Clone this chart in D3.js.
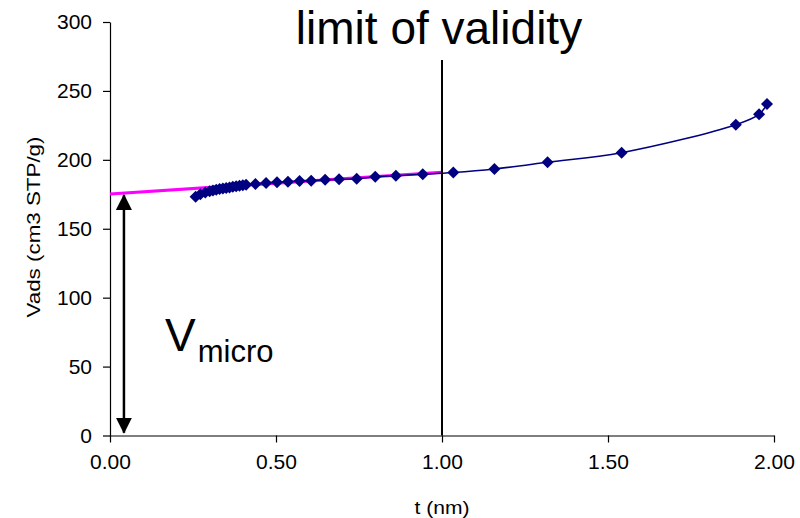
<!DOCTYPE html>
<meta charset="utf-8">
<script src="https://d3js.org/d3.v7.min.js"></script>
<style>
  body { margin: 0; background: #fff; }
  text { font-family: "Liberation Sans", Arial, sans-serif; fill: #000; }
</style>
<div id="chart"></div>

<script>
  // data
  var tValues = [0.258, 0.272, 0.287, 0.30, 0.31, 0.32, 0.33, 0.34, 0.35, 0.36, 0.37, 0.38, 0.39, 0.40, 0.41,
    0.438, 0.470, 0.503, 0.536, 0.571, 0.606, 0.648, 0.690, 0.743, 0.799, 0.861, 0.942,
    1.034, 1.158, 1.318, 1.541, 1.885, 1.955, 1.979];
  var vadsValues = [173.3, 175.0, 176.3, 177.2, 177.8, 178.3, 178.8, 179.2, 179.6, 180.0, 180.4, 180.8, 181.2, 181.6, 182.0,
    182.5, 183.2, 183.7, 184.1, 184.6, 184.9, 185.6, 185.9, 186.3, 187.8, 188.5, 189.5,
    190.8, 193.4, 198.2, 205.2, 225.5, 233.0, 240.5];

  // linear fit (t-plot) drawn in magenta
  var fitT = [0, 1.0];
  var fitV = [175.2, 191.0];

  // limit of validity marker and V micro arrow
  var limitT = 1.0, limitTop = 272.5;
  var arrowT = 0.042, arrowFrom = 174.5, arrowTo = 2;

  var xTicks = [0, 0.5, 1, 1.5, 2];
  var yTicks = [0, 50, 100, 150, 200, 250, 300];

  var width = 800, height = 518;

  var svg = d3.select("#chart")
    .append("svg")
    .attr("width", width)
    .attr("height", height);

  var x = d3.scaleLinear().domain([0, 2]).range([110, 774]);
  var y = d3.scaleLinear().domain([0, 300]).range([435.5, 22]);

  // axes
  var xAxis = d3.axisBottom(x).tickValues(xTicks).tickFormat(d3.format(".2f")).tickSize(7).tickSizeOuter(0);
  var yAxis = d3.axisLeft(y).tickValues(yTicks).tickSize(7).tickSizeOuter(0);

  var gX = svg.append("g")
    .attr("transform", "translate(0," + y(0) + ")")
    .call(xAxis);
  var gY = svg.append("g")
    .attr("transform", "translate(" + x(0) + ",0)")
    .call(yAxis);

  [gX, gY].forEach(function (g) {
    g.selectAll(".domain").attr("stroke", "#000").attr("stroke-width", 1.2);
    g.selectAll(".tick line").attr("stroke", "#000").attr("stroke-width", 1.2);
    g.selectAll(".tick text")
      .style("font-family", "'Liberation Sans', Arial, sans-serif")
      .style("font-size", "21px")
      .attr("fill", "#000");
  });
  gX.selectAll(".tick text").attr("dy", "1.1em");
  gY.selectAll(".tick text").attr("x", -18);

  // axis titles
  svg.append("text")
    .attr("x", x(1))
    .attr("y", 514)
    .attr("text-anchor", "middle")
    .attr("textLength", 55)
    .attr("lengthAdjust", "spacingAndGlyphs")
    .style("font-size", "19px")
    .text("t (nm)");

  svg.append("text")
    .attr("transform", "translate(40," + 227 + ") rotate(-90)")
    .attr("text-anchor", "middle")
    .attr("textLength", 181)
    .attr("lengthAdjust", "spacingAndGlyphs")
    .style("font-size", "19px")
    .text("Vads (cm3 STP/g)");

  // fitted line
  svg.append("path")
    .datum(d3.zip(fitT, fitV))
    .attr("fill", "none")
    .attr("stroke", "#ff00ff")
    .attr("stroke-width", 3.2)
    .attr("d", d3.line().x(function (d) { return x(d[0]); }).y(function (d) { return y(d[1]); }));

  // data line + markers
  var pts = d3.zip(tValues, vadsValues);
  svg.append("path")
    .datum(pts)
    .attr("fill", "none")
    .attr("stroke", "#000080")
    .attr("stroke-width", 1.5)
    .attr("d", d3.line()
      .curve(d3.curveCatmullRom)
      .x(function (d) { return x(d[0]); })
      .y(function (d) { return y(d[1]); }));

  svg.append("g")
    .selectAll("path")
    .data(pts)
    .enter()
    .append("path")
    .attr("d", d3.symbol(d3.symbolSquare, 72))
    .attr("transform", function (d) { return "translate(" + x(d[0]) + "," + y(d[1]) + ") rotate(45)"; })
    .attr("fill", "#000080");

  // limit of validity
  svg.append("line")
    .attr("x1", x(limitT)).attr("x2", x(limitT))
    .attr("y1", y(limitTop)).attr("y2", y(0))
    .attr("stroke", "#000")
    .attr("stroke-width", 2);

  svg.append("text")
    .attr("x", 439)
    .attr("y", 44)
    .attr("text-anchor", "middle")
    .style("font-size", "46px")
    .text("limit of validity");

  // double arrow for V micro
  var defs = svg.append("defs");
  defs.append("marker")
    .attr("id", "head")
    .attr("viewBox", "0 0 16 16")
    .attr("refX", 15).attr("refY", 8)
    .attr("markerWidth", 16).attr("markerHeight", 16)
    .attr("markerUnits", "userSpaceOnUse")
    .attr("orient", "auto-start-reverse")
    .append("path")
    .attr("d", "M0,0 L16,8 L0,16 Z")
    .attr("fill", "#000");

  svg.append("line")
    .attr("x1", x(arrowT)).attr("x2", x(arrowT))
    .attr("y1", y(arrowFrom)).attr("y2", y(arrowTo))
    .attr("stroke", "#000")
    .attr("stroke-width", 2.5)
    .attr("marker-start", "url(#head)")
    .attr("marker-end", "url(#head)");

  var vm = svg.append("text")
    .attr("x", 165)
    .attr("y", 351)
    .style("font-size", "46px");
  vm.append("tspan").text("V");
  vm.append("tspan").attr("dy", 11).attr("dx", 2).style("font-size", "31px").text("micro");
</script>
